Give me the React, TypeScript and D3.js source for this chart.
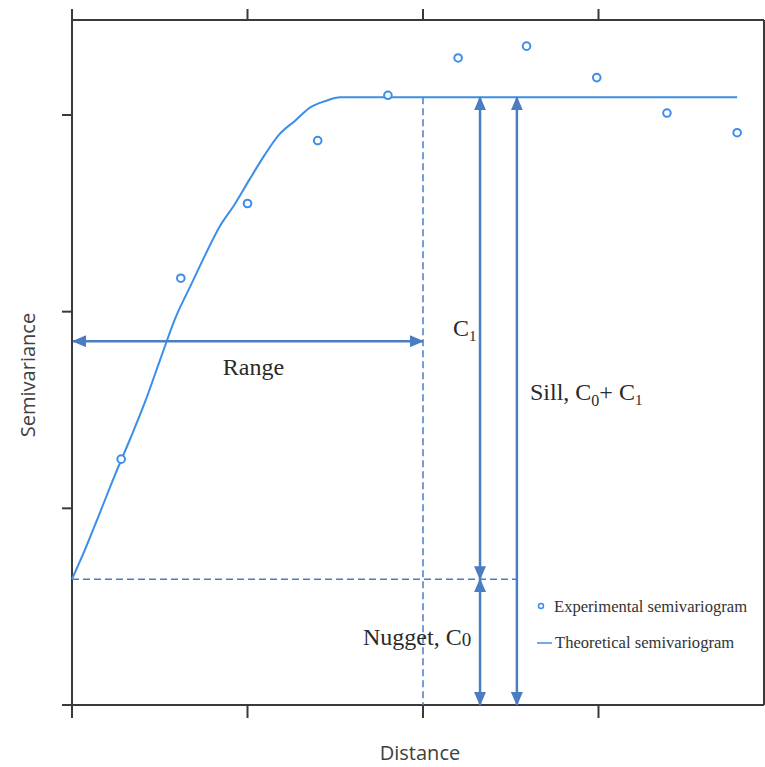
import React from "react";
import * as d3 from "d3";

// experimental semivariogram (lag distance, semivariance)
const lagDistance = [2.8, 6.2, 10.0, 14.0, 18.0, 22.0, 25.9, 29.9, 33.9, 37.9];
const semivariance = [12.5, 21.7, 25.5, 28.7, 31.0, 32.9, 33.5, 31.9, 30.1, 29.1];

// theoretical (fitted) model
const modelDistance = [0, 0.74, 1.6, 2.45, 3.3, 4.2, 5.0, 5.9, 6.8, 7.6, 8.4, 9.3, 10.1, 11.0, 11.8, 12.7, 13.6, 14.4, 15.3, 37.9];
const modelValue = [6.4, 7.9, 9.8, 11.7, 13.5, 15.5, 17.5, 19.7, 21.4, 22.9, 24.3, 25.5, 26.7, 28.0, 29.0, 29.7, 30.4, 30.7, 30.9, 30.9];

const xTicks = [0, 10, 20, 30];
const yTicks = [0, 10, 20, 30];

// annotation values
const nugget = 6.4;
const sill = 30.9;
const rangeX = 20;
const rangeArrowY = 18.5;
const c1ArrowX = 23.25;
const sillArrowX = 25.35;

const W = 765;
const H = 767;
const axisColor = "#3a3a3a";
const dataBlue = "#3c8ee8";
const annBlue = "#4a7dc2";
const serif = "'Liberation Serif', 'Times New Roman', serif";

export default function App() {
  const x = d3.scaleLinear().domain([0, 39.43]).range([72, 764]);
  const y = d3.scaleLinear().domain([0, 34.83]).range([705, 20]);

  const pts = lagDistance.map((d, i) => ({ d, v: semivariance[i] }));
  const model = modelDistance.map((d, i) => ({ d, v: modelValue[i] }));
  const modelLine = d3
    .line<{ d: number; v: number }>()
    .x((p) => x(p.d))
    .y((p) => y(p.v))
    .curve(d3.curveMonotoneX);

  const [x0, x1] = x.range();
  const [y0, y1] = y.range();

  return (
    <svg width={W} height={H} style={{ position: "absolute", left: 0, top: 0, background: "#fff" }}>
      <defs>
        <marker id="arr" viewBox="0 0 14 12" refX="13" refY="6" markerWidth="14" markerHeight="12" markerUnits="userSpaceOnUse" orient="auto-start-reverse">
          <path d="M0,0 L14,6 L0,12 Z" fill={annBlue} />
        </marker>
      </defs>

      {/* frame */}
      <g stroke={axisColor} strokeWidth={2} fill="none">
        <line x1={x0} x2={x0} y1={9} y2={y0} />
        <line x1={62} x2={x1} y1={y0} y2={y0} />
        <line x1={x0} x2={x1} y1={y1} y2={y1} />
        <line x1={x1} x2={x1} y1={y1} y2={y0} />
        {xTicks.map((t) => (
          <g key={"xt" + t}>
            <line x1={x(t)} x2={x(t)} y1={y0} y2={y0 + 13} />
            {t > 0 && <line x1={x(t)} x2={x(t)} y1={y1} y2={y1 - 11} />}
          </g>
        ))}
        {yTicks.filter((t) => t > 0).map((t) => (
          <line key={"yt" + t} x1={x0 - 10} x2={x0} y1={y(t)} y2={y(t)} />
        ))}
      </g>

      {/* guides */}
      <g stroke={annBlue} strokeWidth={1.5} strokeDasharray="7,4" fill="none">
        <line x1={x0} x2={x(sillArrowX)} y1={y(nugget)} y2={y(nugget)} />
        <line x1={x(rangeX)} x2={x(rangeX)} y1={y(sill)} y2={y0} />
      </g>

      {/* model curve */}
      <path d={modelLine(model) || ""} fill="none" stroke={dataBlue} strokeWidth={2} />

      {/* experimental points */}
      {pts.map((p, i) => (
        <circle key={i} cx={x(p.d)} cy={y(p.v)} r={3.8} fill="#fff" stroke={dataBlue} strokeWidth={2} />
      ))}

      {/* arrows */}
      <g stroke={annBlue} strokeWidth={2.5} fill="none">
        <line x1={x0 + 1} x2={x(rangeX)} y1={y(rangeArrowY)} y2={y(rangeArrowY)} markerStart="url(#arr)" markerEnd="url(#arr)" />
        <line x1={x(c1ArrowX)} x2={x(c1ArrowX)} y1={y(sill)} y2={y(nugget)} markerStart="url(#arr)" markerEnd="url(#arr)" />
        <line x1={x(c1ArrowX)} x2={x(c1ArrowX)} y1={y(nugget)} y2={y0} markerStart="url(#arr)" markerEnd="url(#arr)" />
        <line x1={x(sillArrowX)} x2={x(sillArrowX)} y1={y(sill)} y2={y0} markerStart="url(#arr)" markerEnd="url(#arr)" />
      </g>

      {/* annotation labels */}
      <g fontFamily={serif} fontSize={24} fill="#2a2a2a">
        <text x={(x0 + x(rangeX)) / 2 + 6} y={y(rangeArrowY) + 34} textAnchor="middle">Range</text>
        <text x={x(c1ArrowX) - 27} y={y(rangeArrowY) - 5}>
          C<tspan fontSize={15} dy={5}>1</tspan>
        </text>
        <text x={530} y={400}>
          Sill, C<tspan fontSize={16} dy={6}>0</tspan>
          <tspan dy={-6}>+ C</tspan>
          <tspan fontSize={15} dy={5}>1</tspan>
        </text>
        <text x={363} y={645}>
          Nugget, C<tspan fontSize={19} dy={1}>0</tspan>
        </text>
      </g>

      {/* legend */}
      <g fontFamily={serif} fontSize={16.6} fill="#333">
        <circle cx={541} cy={606} r={2.5} fill="#fff" stroke={dataBlue} strokeWidth={1.5} />
        <text x={554} y={612}>Experimental semivariogram</text>
        <line x1={537} x2={552} y1={643} y2={643} stroke={dataBlue} strokeWidth={1.5} />
        <text x={555} y={648}>Theoretical semivariogram</text>
      </g>

      {/* axis titles */}
      <text x={420} y={760} textAnchor="middle" fontFamily="'Open Sans', sans-serif" fontSize={20} fill="#404040">
        Distance
      </text>
      <text transform="translate(35,375) rotate(-90)" textAnchor="middle" fontFamily="'Open Sans', sans-serif" fontSize={20} fill="#404040">
        Semivariance
      </text>
    </svg>
  );
}
